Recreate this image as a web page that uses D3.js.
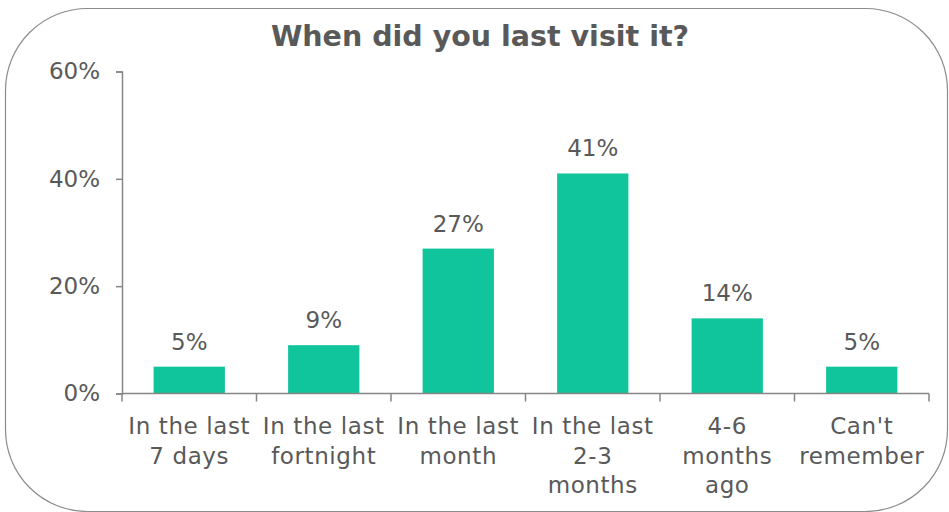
<!DOCTYPE html>
<html><head><meta charset="utf-8">
<script src="https://cdn.jsdelivr.net/npm/d3@7"></script>
<style>body{margin:0;background:#fff}svg{display:block}text{font-family:Verdana,"DejaVu Sans",sans-serif;fill:#595959}</style>
</head><body><div id="chart"></div>
<script>
const title = "When did you last visit it?";
const categories = ["In the last 7 days","In the last fortnight","In the last month","In the last 2-3 months","4-6 months ago","Can't remember"];
const categoryLines = [["In the last","7 days"],["In the last","fortnight"],["In the last","month"],["In the last","2-3","months"],["4-6","months","ago"],["Can't","remember"]];
const values = [5, 9, 27, 41, 14, 5];
const yTicks = [0, 20, 40, 60];

const W = 949, H = 512;
const svg = d3.select("#chart").append("svg").attr("width", W).attr("height", H);
svg.append("rect").attr("x",5.5).attr("y",8.5).attr("width",942).attr("height",503)
  .attr("rx",82).attr("ry",82).attr("fill","#fff").attr("stroke","#8c8c8c").attr("stroke-width",1.2);

svg.append("text").attr("x",480).attr("y",45.5).attr("text-anchor","middle")
  .style("font-weight","bold").style("font-size","28.5px").text(title);

const x = d3.scaleBand().domain(categories).range([122,929]).paddingInner(0.47).paddingOuter(0.235);
const y = d3.scaleLinear().domain([0,60]).range([393.5,71.5]);

const axisColor = "#868686";
// y axis
const ya = svg.append("g").attr("transform","translate(122,0)")
  .call(d3.axisLeft(y).tickValues(yTicks).tickFormat(d=>d+"%").tickSize(6).tickPadding(16));
ya.select(".domain").attr("stroke",axisColor).attr("stroke-width",1.5);
ya.selectAll(".tick line").attr("stroke",axisColor).attr("stroke-width",1.5);
ya.selectAll(".tick text").style("font-size","23px").attr("fill","#595959");

// bars
svg.selectAll(".bar").data(values).join("rect")
  .attr("x",(d,i)=>x(categories[i])).attr("width",x.bandwidth())
  .attr("y",d=>y(d)).attr("height",d=>y(0)-y(d)).attr("fill","#10C49B");

// value labels
svg.selectAll(".vl").data(values).join("text")
  .attr("x",(d,i)=>x(categories[i])+x.bandwidth()/2).attr("y",d=>y(d)-17)
  .attr("text-anchor","middle").style("font-size","23px").text(d=>d+"%");

// x axis
const step = (929-122)/categories.length;
svg.append("line").attr("x1",122).attr("x2",929).attr("y1",393.5).attr("y2",393.5)
  .attr("stroke",axisColor).attr("stroke-width",1.5);
const bounds = d3.range(categories.length+1).map(i=>122+i*step);
svg.selectAll(".xt").data(bounds).join("line")
  .attr("x1",d=>d).attr("x2",d=>d).attr("y1",393.5).attr("y2",401.5)
  .attr("stroke",axisColor).attr("stroke-width",1.5);

const cl = svg.selectAll(".cl").data(categories).join("text")
  .attr("text-anchor","middle").style("font-size","23px").style("letter-spacing","0.6px");
cl.each(function(c,i){
  const t = d3.select(this);
  categoryLines[i].forEach((ln,j)=>{
    t.append("tspan").attr("x",x(c)+x.bandwidth()/2).attr("y",434+j*29.5).text(ln);
  });
});
</script></body></html>
